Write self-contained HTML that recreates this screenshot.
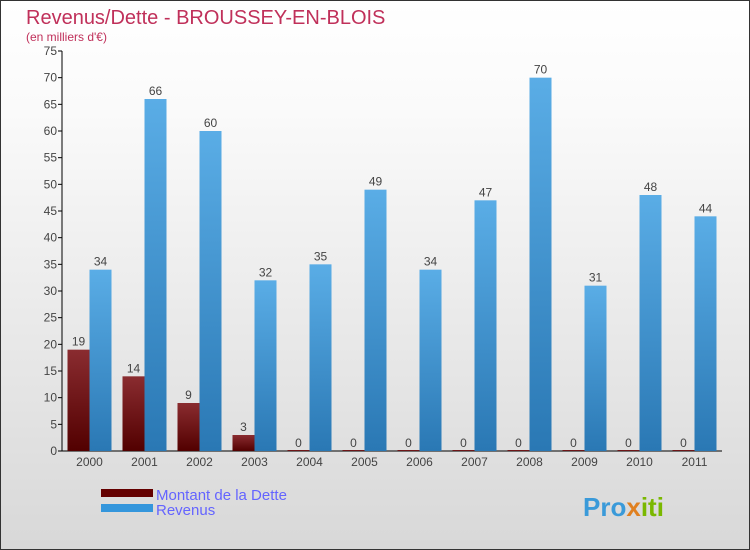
<!DOCTYPE html>
<html><head><meta charset="utf-8"><style>
body{margin:0;}
#c{position:relative;width:748px;height:548px;border:1px solid #333;background:linear-gradient(#fff,#fafafa 20%,#d8d8d8);font-family:"Liberation Sans",sans-serif;overflow:hidden}
</style></head><body>
<div id="c">
<svg id="s" width="748" height="548" xmlns="http://www.w3.org/2000/svg">
<defs>
<linearGradient id="gd" x1="0" y1="0" x2="0" y2="1"><stop offset="0" stop-color="#8a2c30"/><stop offset="1" stop-color="#520000"/></linearGradient>
<linearGradient id="gr" x1="0" y1="0" x2="0" y2="1"><stop offset="0" stop-color="#5aade6"/><stop offset="1" stop-color="#2a78b4"/></linearGradient>
</defs>
<text x="25" y="23" font-size="20" fill="#c0305a">Revenus/Dette - BROUSSEY-EN-BLOIS</text>
<text x="25" y="40" font-size="12" fill="#c0305a">(en milliers d'€)</text>
<g id="plot"></g>
<rect x="100" y="488" width="52" height="8" fill="#640000"/>
<text x="155" y="499" font-size="15" fill="#6464ff">Montant de la Dette</text>
<rect x="100" y="503" width="52" height="8" fill="#3496dc"/>
<text x="155" y="514" font-size="15" fill="#6464ff">Revenus</text>
<text x="582" y="515" font-size="26" font-weight="bold" fill="#3a9ad9">Pro<tspan fill="#e08020">x</tspan><tspan fill="#7ab800">iti</tspan></text>
</svg>
</div>
<script>
const years=["2000","2001","2002","2003","2004","2005","2006","2007","2008","2009","2010","2011"];
const dette=[19,14,9,3,0,0,0,0,0,0,0,0];
const revenus=[34,66,60,32,35,49,34,47,70,31,48,44];
const yTicks=[0,5,10,15,20,25,30,35,40,45,50,55,60,65,70,75];
const NS="http://www.w3.org/2000/svg";
const g=document.getElementById('plot');
const x0=61,x1=721,y0=450,yMax=75,yTop=50;
const step=(x1-x0)/years.length;
function y(v){return y0-(v/yMax)*(y0-yTop);}
function cx(i){return x0+step*(i+0.5);}
function el(t,a){const e=document.createElementNS(NS,t);for(const k in a)e.setAttribute(k,a[k]);g.appendChild(e);return e;}
const ax=el('path',{d:`M${x0} ${yTop}V${y0}H${x1}`,stroke:'#000',fill:'none','stroke-width':1});


yTicks.forEach(t=>{
 const l=el('line',{x1:x0-4,x2:x0,y1:y(t),y2:y(t),stroke:'#000'});
 
 
 const tx=el('text',{x:x0-5,y:y(t)+4,'font-size':12,fill:'#444','text-anchor':'end'});
 tx.textContent=t;
 
 
});
const bw=22;
years.forEach((yr,i)=>{
 const c=cx(i);
 const lx=el('text',{x:c,y:y0+15,'font-size':12,fill:'#444','text-anchor':'middle'});
 lx.textContent=yr;
 
 
 const d=dette[i];
 const bd=el('rect',{x:c-bw,y:y(d)-(d===0?1:0),width:bw,height:Math.max(y0-y(d),1),fill:'url(#gd)'});
 
 
 const td=el('text',{x:c-bw/2,y:y(d)-4,'font-size':12,fill:'#444','text-anchor':'middle'});
 td.textContent=d;
 
 
 const r=revenus[i];
 const br=el('rect',{x:c,y:y(r),width:bw,height:y0-y(r),fill:'url(#gr)'});
 
 
 const tr=el('text',{x:c+bw/2,y:y(r)-4,'font-size':12,fill:'#444','text-anchor':'middle'});
 tr.textContent=r;
 
 
});
</script>
</body></html>
